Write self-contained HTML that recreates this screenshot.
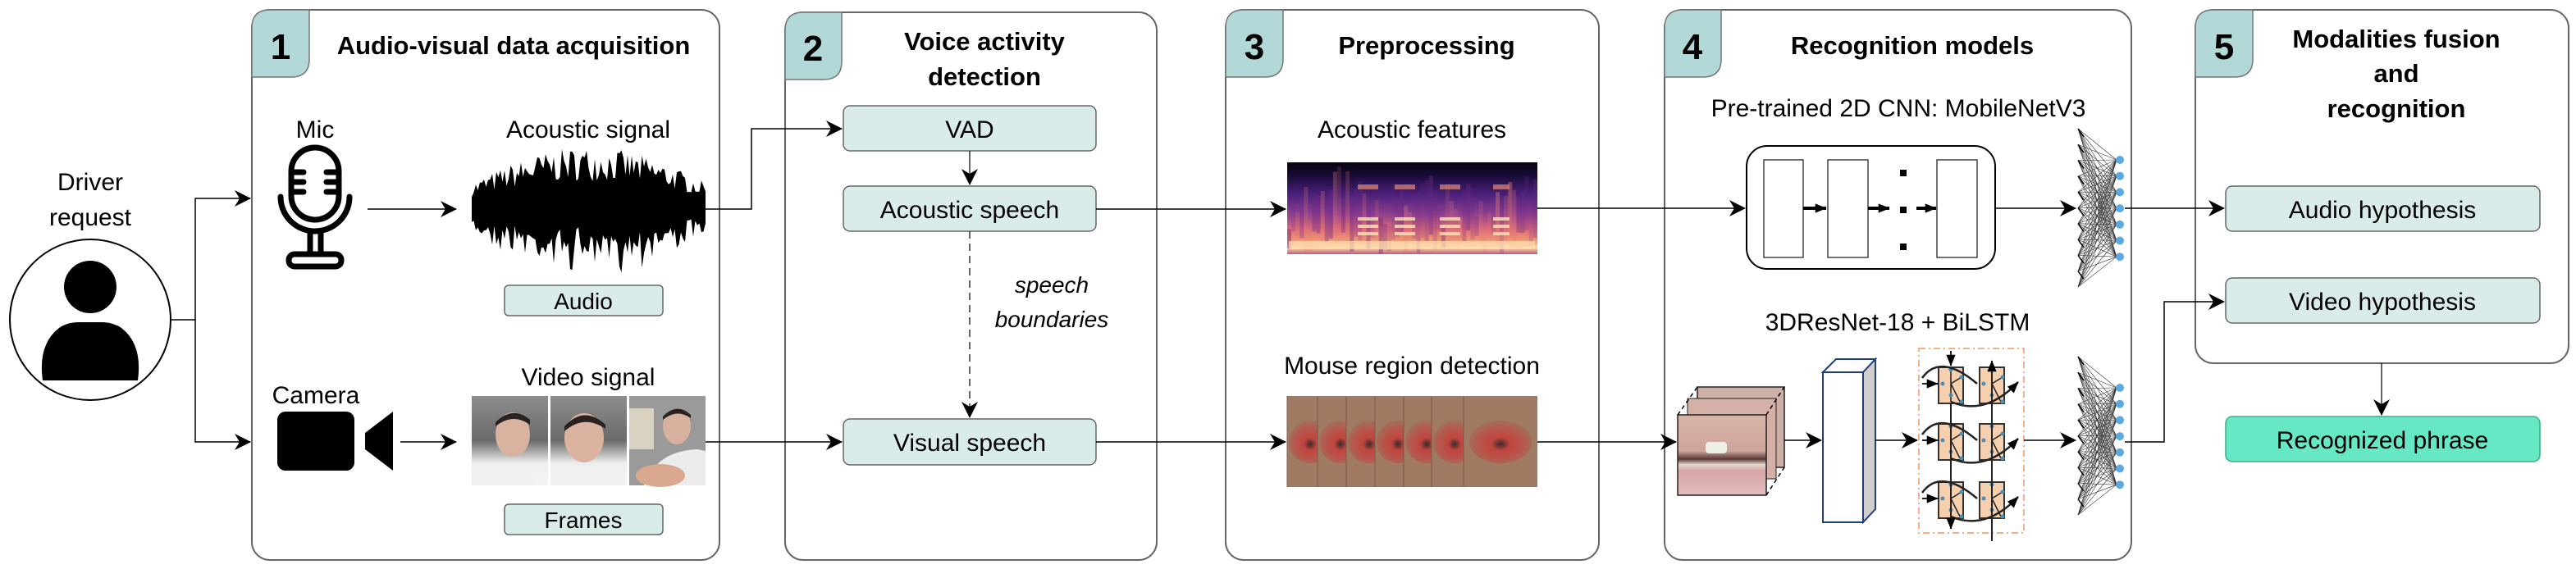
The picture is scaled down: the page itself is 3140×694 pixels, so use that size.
<!DOCTYPE html>
<html><head><meta charset="utf-8">
<style>
html,body{margin:0;padding:0;background:#fff;width:3140px;height:694px;overflow:hidden}
svg{display:block}
text{font-family:"Liberation Sans",Arial,sans-serif;fill:#000}
.t{font-weight:bold;font-size:31px}
.l{font-size:30px}
.b{font-size:28px}
.num{font-weight:bold;font-size:44px}
</style></head><body>
<svg id="s" width="3140" height="694" viewBox="0 0 3140 694" xmlns="http://www.w3.org/2000/svg">
<defs>
<marker id="ar" viewBox="0 0 20 20" refX="19" refY="10" markerWidth="20" markerHeight="20" markerUnits="userSpaceOnUse" orient="auto">
<path d="M0,0 L20,10 L0,20 L6,10 Z" fill="#000"/></marker>
<marker id="ars" viewBox="0 0 20 20" refX="19" refY="10" markerWidth="14" markerHeight="14" markerUnits="userSpaceOnUse" orient="auto">
<path d="M0,2 L20,10 L0,18 Z" fill="#000"/></marker>
<linearGradient id="spec" x1="0" y1="0" x2="0" y2="1">
<stop offset="0" stop-color="#05030f"/><stop offset="0.15" stop-color="#1a0c3a"/>
<stop offset="0.35" stop-color="#4a1f7a"/><stop offset="0.55" stop-color="#8a3d8f"/>
<stop offset="0.72" stop-color="#d8687a"/><stop offset="0.86" stop-color="#f59a72"/>
<stop offset="0.93" stop-color="#fbd6a5"/><stop offset="1" stop-color="#c0587c"/></linearGradient>
<radialGradient id="lip" cx="0.5" cy="0.55" r="0.6">
<stop offset="0" stop-color="#3a2a2a"/><stop offset="0.25" stop-color="#c0453f"/><stop offset="0.55" stop-color="#b9544a"/><stop offset="1" stop-color="#9c7660"/></radialGradient>
<linearGradient id="mouth" x1="0" y1="0" x2="0" y2="1">
<stop offset="0" stop-color="#d9b5a8"/><stop offset="0.45" stop-color="#cfa59b"/><stop offset="0.55" stop-color="#5a3a35"/><stop offset="0.62" stop-color="#e6d8cf"/><stop offset="0.7" stop-color="#d6a6a6"/><stop offset="1" stop-color="#e2bcbc"/></linearGradient>
<linearGradient id="car" x1="0" y1="0" x2="0" y2="1">
<stop offset="0" stop-color="#8d8d8d"/><stop offset="0.5" stop-color="#6a6a6a"/><stop offset="0.75" stop-color="#eeeeee"/><stop offset="1" stop-color="#f4f4f4"/></linearGradient>
</defs>

<g fill="#fff" stroke="#666" stroke-width="2">
<rect x="307" y="12" width="570" height="671" rx="22"/>
<rect x="957" y="15" width="453" height="668" rx="22"/>
<rect x="1494" y="12" width="455" height="671" rx="22"/>
<rect x="2029" y="12" width="569" height="671" rx="22"/>
<rect x="2676" y="12" width="455" height="431" rx="22"/>
</g>
<g fill="#b3d8d8" stroke="#777" stroke-width="1.5">
<path d="M307,94 V34 Q307,12 329,12 H377 V72 Q377,94 355,94 Z"/>
<path d="M957,97 V37 Q957,15 979,15 H1026 V75 Q1026,97 1004,97 Z"/>
<path d="M1494,94 V34 Q1494,12 1516,12 H1564 V72 Q1564,94 1542,94 Z"/>
<path d="M2029,94 V34 Q2029,12 2051,12 H2098 V72 Q2098,94 2076,94 Z"/>
<path d="M2676,94 V34 Q2676,12 2698,12 H2746 V72 Q2746,94 2724,94 Z"/>
</g>
<g class="num" text-anchor="middle">
<text x="342" y="72" class="num">1</text>
<text x="991" y="74" class="num">2</text>
<text x="1529" y="72" class="num">3</text>
<text x="2063" y="72" class="num">4</text>
<text x="2711" y="72" class="num">5</text>
</g>
<g text-anchor="middle">
<text x="626" y="66" class="t">Audio-visual data acquisition</text>
<text x="1200" y="61" class="t">Voice activity</text>
<text x="1200" y="104" class="t">detection</text>
<text x="1739" y="66" class="t">Preprocessing</text>
<text x="2331" y="66" class="t">Recognition models</text>
<text x="2921" y="58" class="t">Modalities fusion</text>
<text x="2921" y="100" class="t">and</text>
<text x="2921" y="143" class="t">recognition</text>
</g>

<text x="110" y="232" class="l" text-anchor="middle">Driver</text>
<text x="110" y="275" class="l" text-anchor="middle">request</text>
<ellipse cx="110" cy="390" rx="98" ry="98" fill="#fff" stroke="#000" stroke-width="2"/>
<circle cx="110" cy="350" r="32" fill="#000"/>
<path d="M52,464 Q46,420 72,400 Q82,393 96,393 H124 Q138,393 148,400 Q174,420 168,464 Z" fill="#000"/>
<g stroke="#000" stroke-width="1.5" fill="none">
<path d="M208,390 H238 V242 H305" marker-end="url(#ar)"/>
<path d="M238,390 V539 H305" marker-end="url(#ar)"/>
</g>

<text x="384" y="168" class="l" text-anchor="middle">Mic</text>
<g stroke="#000" stroke-width="7" fill="none" stroke-linecap="round">
<rect x="355" y="180" width="58" height="88" rx="29"/>
<path d="M342,240 A42,42 0 0 0 426,240"/>
<path d="M358,210 H370 M358,222 H370 M358,234 H370 M398,210 H410 M398,222 H410 M398,234 H410"/>
<path d="M378,284 V310 M391,284 V310"/>
<rect x="352" y="310" width="64" height="15" rx="7"/>
</g>
<path d="M448,255 H556" stroke="#000" stroke-width="1.5" marker-end="url(#ar)"/>
<text x="717" y="168" class="l" text-anchor="middle">Acoustic signal</text>
<path id="wave" d="" fill="#000"/>
<rect x="615" y="348" width="193" height="37" rx="5" fill="#daecea" stroke="#666" stroke-width="1.5"/>
<text x="711" y="377" class="b" text-anchor="middle">Audio</text>
<path d="M860,255 H916 V157 H1026" stroke="#000" stroke-width="1.5" fill="none" marker-end="url(#ar)"/>

<text x="385" y="492" class="l" text-anchor="middle">Camera</text>
<rect x="338" y="502" width="94" height="72" rx="10" fill="#000"/>
<path d="M479,502 V574 L445,548 V528 Z" fill="#000"/>
<path d="M488,539 H556" stroke="#000" stroke-width="1.5" marker-end="url(#ar)"/>
<text x="717" y="470" class="l" text-anchor="middle">Video signal</text>
<g>
<rect x="575" y="483" width="93" height="109" fill="url(#car)"/>
<ellipse cx="625" cy="530" rx="21" ry="27" fill="#d9b2a0"/><path d="M604,515 Q625,494 646,512 L646,518 Q625,503 604,520Z" fill="#2a2220"/>
<path d="M575,575 Q610,560 650,575 V592 H575Z" fill="#f1f1f1"/>
<rect x="671" y="483" width="93" height="109" fill="url(#car)"/>
<ellipse cx="712" cy="534" rx="24" ry="30" fill="#dcb3a0"/><path d="M688,520 Q712,494 738,518 L738,523 Q712,505 688,526Z" fill="#2a2220"/>
<path d="M671,583 Q712,570 764,583 V592 H671Z" fill="#f1f1f1"/>
<rect x="767" y="483" width="93" height="109" fill="#9a9a9a"/>
<rect x="767" y="498" width="30" height="50" fill="#d8d2c0"/>
<ellipse cx="825" cy="520" rx="17" ry="22" fill="#d8b09e"/><path d="M808,508 Q825,490 842,506 L842,510 Q825,498 808,512Z" fill="#2a2220"/>
<path d="M785,592 Q800,550 850,548 L860,550 V592Z" fill="#ececec"/>
<ellipse cx="805" cy="580" rx="30" ry="14" fill="#d9a88f"/>
</g>
<rect x="615" y="615" width="193" height="37" rx="5" fill="#daecea" stroke="#666" stroke-width="1.5"/>
<text x="711" y="644" class="b" text-anchor="middle">Frames</text>
<path d="M860,539 H1026" stroke="#000" stroke-width="1.5" fill="none" marker-end="url(#ar)"/>

<g fill="#daecea" stroke="#666" stroke-width="1.5">
<rect x="1028" y="129" width="308" height="55" rx="8"/>
<rect x="1028" y="227" width="308" height="55" rx="8"/>
<rect x="1028" y="511" width="308" height="56" rx="8"/>
</g>
<text x="1182" y="168" class="l" text-anchor="middle">VAD</text>
<text x="1182" y="266" class="l" text-anchor="middle">Acoustic speech</text>
<text x="1182" y="550" class="l" text-anchor="middle">Visual speech</text>
<path d="M1182,184 V225" stroke="#000" stroke-width="1.2" marker-end="url(#ar)"/>
<path d="M1182,282 V509" stroke="#000" stroke-width="1.2" stroke-dasharray="9,6" marker-end="url(#ar)"/>
<text x="1282" y="357" class="b" text-anchor="middle" font-style="italic">speech</text>
<text x="1282" y="399" class="b" text-anchor="middle" font-style="italic">boundaries</text>
<path d="M1336,255 H1567" stroke="#000" stroke-width="1.5" marker-end="url(#ar)"/>
<path d="M1336,539 H1567" stroke="#000" stroke-width="1.5" marker-end="url(#ar)"/>

<text x="1721" y="168" class="l" text-anchor="middle">Acoustic features</text>
<rect x="1569" y="198" width="305" height="112" fill="url(#spec)"/>
<g id="specn"></g>
<text x="1721" y="456" class="l" text-anchor="middle">Mouse region detection</text>
<g id="lips"></g>
<path d="M1874,539 H2043" stroke="#000" stroke-width="1.5" marker-end="url(#ar)"/>

<text x="2314" y="142" class="l" text-anchor="middle">Pre-trained 2D CNN: MobileNetV3</text>
<path d="M1874,254 H2127" stroke="#000" stroke-width="1.5" marker-end="url(#ar)"/>
<rect x="2129" y="178" width="303" height="150" rx="25" fill="#fff" stroke="#000" stroke-width="2"/>
<g fill="#fff" stroke="#444" stroke-width="1.5">
<rect x="2150" y="195" width="48" height="119"/><rect x="2228" y="195" width="49" height="119"/><rect x="2361" y="195" width="49" height="119"/>
</g>
<g stroke="#000" stroke-width="4">
<path d="M2198,254 H2226" marker-end="url(#ars)"/><path d="M2277,254 H2303" marker-end="url(#ars)"/><path d="M2336,254 H2360" marker-end="url(#ars)"/>
</g>
<g fill="#000"><rect x="2316" y="207" width="8" height="8"/><rect x="2316" y="252" width="8" height="8"/><rect x="2316" y="297" width="8" height="8"/></g>
<path d="M2432,254 H2530" stroke="#000" stroke-width="1.5" marker-end="url(#ar)"/>
<g id="nn1"></g>
<path d="M2590,254 H2711" stroke="#000" stroke-width="1.5" marker-end="url(#ar)"/>

<text x="2313" y="403" class="l" text-anchor="middle">3DResNet-18 + BiLSTM</text>
<g>
<rect x="2069" y="472" width="106" height="98" fill="#cfb0a6" stroke="#222" stroke-width="1.5"/>
<rect x="2057" y="486" width="108" height="98" fill="#d4b0a6" stroke="#222" stroke-width="1"/>
<rect x="2045" y="506" width="108" height="98" fill="url(#mouth)" stroke="#222" stroke-width="1.5"/>
<rect x="2079" y="539" width="26" height="14" rx="4" fill="#eef0e6"/>
<g stroke="#000" stroke-width="1.5" stroke-dasharray="5,4">
<path d="M2045,506 L2069,472 M2153,506 L2175,472 M2153,604 L2175,570"/></g>
</g>
<path d="M2175,537 H2220" stroke="#000" stroke-width="1.5" marker-end="url(#ar)"/>
<path d="M2222,454 L2238,438 H2286 L2271,454 Z" fill="#fff" stroke="#1f3e7a" stroke-width="2"/>
<path d="M2271,454 L2286,438 V621 L2271,637 Z" fill="#cfcfcf" stroke="#1f3e7a" stroke-width="2"/>
<rect x="2222" y="454" width="49" height="183" fill="#fff" stroke="#1f3e7a" stroke-width="2"/>
<path d="M2286,537 H2337" stroke="#000" stroke-width="1.5" marker-end="url(#ar)"/>
<rect x="2339" y="425" width="128" height="225" fill="none" stroke="#f0b088" stroke-width="2" stroke-dasharray="8,4,2,4"/>
<g id="lstm"></g>
<path d="M2467,537 H2530" stroke="#000" stroke-width="1.5" marker-end="url(#ar)"/>
<g id="nn2"></g>
<path d="M2590,539 H2638 V368 H2711" stroke="#000" stroke-width="1.5" fill="none" marker-end="url(#ar)"/>

<rect x="2713" y="227" width="383" height="55" rx="8" fill="#daecea" stroke="#666" stroke-width="1.5"/>
<rect x="2713" y="339" width="383" height="55" rx="8" fill="#daecea" stroke="#666" stroke-width="1.5"/>
<text x="2904" y="266" class="l" text-anchor="middle">Audio hypothesis</text>
<text x="2904" y="378" class="l" text-anchor="middle">Video hypothesis</text>
<path d="M2903,443 V506" stroke="#000" stroke-width="1.2" marker-end="url(#ar)"/>
<rect x="2713" y="508" width="383" height="55" rx="8" fill="#66e8c4" stroke="#4a8" stroke-width="1.5"/>
<text x="2904" y="547" class="l" text-anchor="middle">Recognized phrase</text>
</svg>
<script>
(function(){
var NS="http://www.w3.org/2000/svg";
var seed=7;function r(){seed=(seed*16807)%2147483647;return seed/2147483647;}
var d="M575,255";var top=[],bot=[];
for(var x=575;x<=860;x+=2.5){var t=(x-575)/285;var env=Math.sin(Math.PI*(0.08+0.84*t));var a=(18+58*env)*(0.45+0.55*r());top.push([x,255-a]);bot.push([x,255+a*(0.6+0.5*r())]);}
top.forEach(function(p){d+=" L"+p[0].toFixed(1)+","+p[1].toFixed(1);});
d+=" L860,255";bot.reverse().forEach(function(p){d+=" L"+p[0].toFixed(1)+","+p[1].toFixed(1);});
d+=" Z";document.getElementById("wave").setAttribute("d",d);
function el(tag,at,par){var e=document.createElementNS(NS,tag);for(var k in at)e.setAttribute(k,at[k]);par.appendChild(e);return e;}
// spectrogram noise
var SP=document.getElementById("specn");
for(var i=0;i<60;i++){var x=1569+i*5.08;var h=20+r()*60;el("rect",{x:x,y:310-h-r()*30,width:5,height:h,fill:r()<0.5?"#e77a6e":"#6a2a85",opacity:(0.15+r()*0.3).toFixed(2)},SP);}
[[1655,1680],[1700,1725],[1755,1780],[1820,1840]].forEach(function(b){for(var k=0;k<3;k++)el("rect",{x:b[0],y:265+k*9,width:b[1]-b[0],height:4,fill:"#fde5b8",opacity:0.8},SP);
el("rect",{x:b[0],y:225,width:b[1]-b[0],height:6,fill:"#e08a78",opacity:0.7},SP);});
el("rect",{x:1571,y:294,width:300,height:10,fill:"#fde0b0",opacity:0.7},SP);
var L=document.getElementById("lips");
var xs=[1569,1606,1641,1676,1711,1745,1784];
xs.forEach(function(x,i){var w=(i==6?90:45);el("rect",{x:x,y:483,width:w,height:111,fill:"#a07a62"},L);
el("ellipse",{cx:x+(i==6?45:28),cy:539,rx:(i==6?38:26),ry:26,fill:"url(#lip)"},L);
el("line",{x1:x,y1:483,x2:x,y2:594,stroke:"#7a5a48","stroke-width":1},L);});
function nn(g,y0,y1,dy){var G=document.getElementById(g);var left=[];for(var i=0;i<11;i++)left.push(y0+(y1-y0)*i/10);
var right=[];for(var j=0;j<7;j++)right.push(dy+j*19.7);
left.forEach(function(a){right.forEach(function(b){el("line",{x1:2533,y1:a,x2:2580,y2:b,stroke:"#333","stroke-width":0.6},G);});});
left.forEach(function(a,i){if(i<10)el("line",{x1:2533,y1:a,x2:2540,y2:a+ (y1-y0)/20,stroke:"#000","stroke-width":1.5},G);});
right.forEach(function(b){el("circle",{cx:2584,cy:b,r:5,fill:"#5aa9e0"},G);});}
nn("nn1",157,350,195);nn("nn2",435,628,473);
var S=document.getElementById("lstm");
[448,517,588].forEach(function(y){[2363,2413].forEach(function(x){
el("rect",{x:x,y:y,width:30,height:44,fill:"#f6cfae",stroke:"#333","stroke-width":2},S);
el("path",{d:"M"+(x+15)+","+(y+2)+" V"+(y+42)+" M"+(x+15)+","+(y+20)+" L"+(x+28)+","+(y+12)+" M"+(x+15)+","+(y+20)+" L"+(x+26)+","+(y+42),stroke:"#222","stroke-width":1.5,fill:"none"},S);
[[x+15,y+3],[x+5,y+20],[x+28,y+12],[x+15,y+34],[x+28,y+42]].forEach(function(p){el("circle",{cx:p[0],cy:p[1],r:2.5,fill:"#4a8fb8"},S);});
});
el("path",{d:"M2343,"+(y+13)+" Q2365,"+(y-18)+" 2410,"+(y+20),stroke:"#222","stroke-width":2.5,fill:"none"},S);
el("path",{d:"M2378,"+(y+42)+" Q2420,"+(y+60)+" 2460,"+(y+18),stroke:"#222","stroke-width":2.5,fill:"none","marker-end":"url(#ars)"},S);
el("path",{d:"M2343,"+(y+20)+" H2362",stroke:"#222","stroke-width":2,"marker-end":"url(#ars)"},S);
});
el("path",{d:"M2378,428 V446",stroke:"#222","stroke-width":2,"marker-end":"url(#ars)"},S);
el("path",{d:"M2378,492 V645",stroke:"#222","stroke-width":2,"marker-end":"url(#ars)"},S);
el("path",{d:"M2428,660 V440",stroke:"#222","stroke-width":2,"marker-end":"url(#ars)"},S);
})();
</script>
</body></html>
